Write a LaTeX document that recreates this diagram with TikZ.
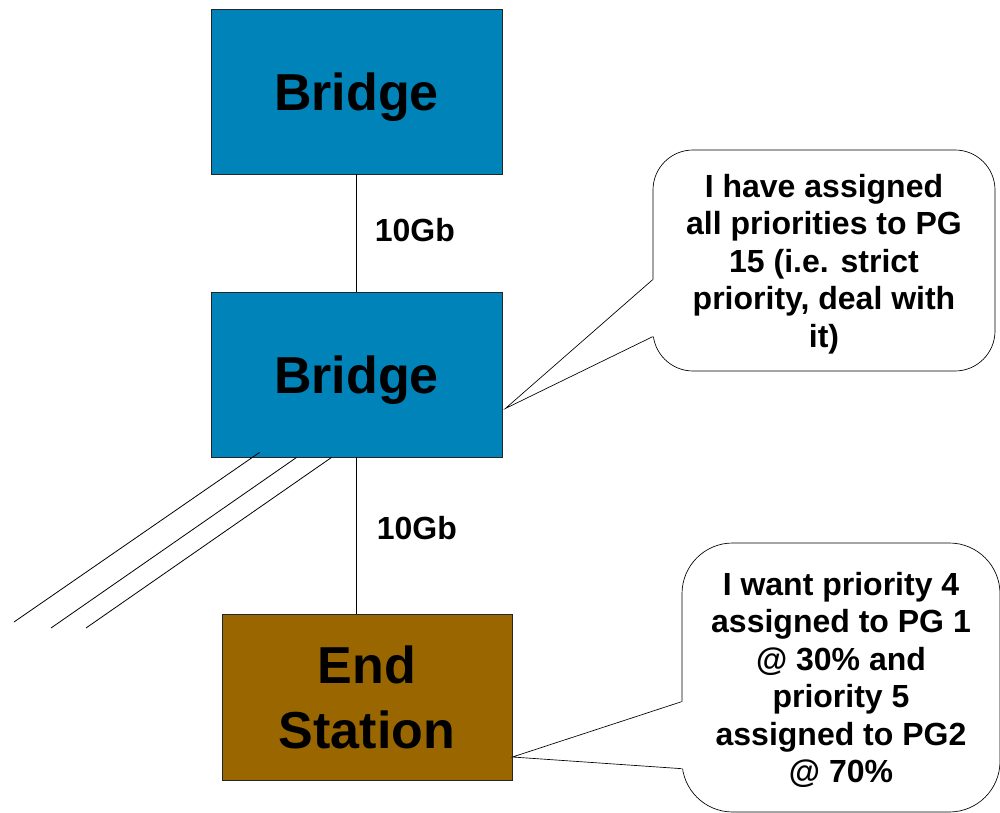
\documentclass[tikz,border=0pt]{standalone}
\usepackage{fontspec}
\setmainfont{Liberation Sans}
\usetikzlibrary{positioning, calc}
\definecolor{bridgeblue}{HTML}{0083B8}
\definecolor{stationbrown}{HTML}{996600}
\tikzset{box/.style={draw=black!85,line width=0.6pt,font=\bfseries\fontsize{39}{48.75}\selectfont,align=center,inner sep=0pt},
         bridge/.style={box,fill=bridgeblue,minimum width=218.25pt,minimum height=123.75pt,text depth=0pt},
         station/.style={box,fill=stationbrown,minimum width=217.5pt,minimum height=124.5pt},
         note/.style={draw,fill=white,line width=0.5pt,rounded corners=30pt,align=center,inner sep=0pt,text depth=0pt,font=\bfseries\fontsize{24}{28.1}\selectfont},
         link/.style={line width=0.6pt},
         rate/.style={font=\bfseries\fontsize{24}{28}\selectfont,inner sep=0pt},
        }

\begin{document}
\begin{tikzpicture}[x=0.75pt,y=-0.75pt]
        \useasboundingbox (0,0) rectangle (1000,813);
        \node[bridge](b1)at(356.5,91.5){Bridge};
        \node[bridge](b2)at(356.5,374.5){Bridge};
        \node[station](es)at(367,697){End\\Station};
        \draw[link](b1)--(b2)node[midway,right=13.5pt,rate,yshift=2pt]{10Gb};
        \draw[link](b2.south)--(b2.south|-es.north)node[pos=0.45,right=15pt,rate]{10Gb};
        % other ports
        \coordinate(o1)at(14,622);
        \coordinate(o2)at(51,628);
        \coordinate(o3)at(86,628);
        \draw[link]($(b2.south west)+(49,-5)$)--(o1);
        \draw[link]($(b2.south west)+(86,0)$)--(o2);
        \draw[link]($(b2.south west)+(121,0)$)--(o3);
        % speech bubbles
        \node[note,minimum width=256.5pt,minimum height=165.75pt](n1)at(824,260.5){I have assigned\\all priorities to PG\\15 (i.e. strict\\priority, deal with\\it)};
        \coordinate(t1)at($(b2.east)+(3,34)$);
        \fill[white]($(n1.north west)+(0,130)$)--(t1)--($(n1.north west)+(0,187)$)--++(3,0)--($(n1.north west)+(3,130)$)--cycle;
        \draw[line width=0.5pt]($(n1.north west)+(0,130)$)--(t1)--($(n1.north west)+(0,187)$);
        \node[note,minimum width=238.5pt,minimum height=201.75pt,rounded corners=38pt](n2)at(841,677.5){I want priority 4\\assigned to PG 1\\@ 30\% and\\priority 5\\assigned to PG2\\@ 70\%};
        \coordinate(t2)at($(es.east)+(0,60)$);
        \fill[white]($(n2.north west)+(0,159)$)--(t2)--($(n2.north west)+(0,226)$)--++(3,0)--($(n2.north west)+(3,159)$)--cycle;
        \draw[line width=0.5pt]($(n2.north west)+(0,159)$)--(t2)--($(n2.north west)+(0,226)$);
\end{tikzpicture}
\end{document}
